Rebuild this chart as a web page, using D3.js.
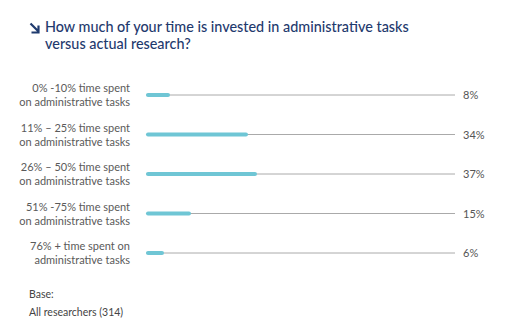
<!DOCTYPE html>
<html><head><meta charset="utf-8">
<script src="https://cdn.jsdelivr.net/npm/d3@7"></script>
<style>body{margin:0;background:#fff}</style>
</head><body>
<script>
const categories = [
  ["0% -10% time spent", "on administrative tasks"],
  ["11% \u2013 25% time spent", "on administrative tasks"],
  ["26% \u2013 50% time spent", "on administrative tasks"],
  ["51% -75% time spent", "on administrative tasks"],
  ["76% + time spent on", "administrative tasks"]
];
const values = [8, 34, 37, 15, 6];
const valueLabels = ["8%", "34%", "37%", "15%", "6%"];
const titleLines = ["How much of your time is invested in administrative tasks", "versus actual research?"];
const baseLines = ["Base:", "All researchers (314)"];

const W = 513, H = 333;
const svg = d3.select("body").append("svg").attr("width", W).attr("height", H);
const font = "Lato, 'Open Sans', sans-serif";

const x = d3.scaleLinear().domain([0, 100]).range([146, 446]);
const y = d3.scalePoint().domain(d3.range(values.length)).range([95, 253]);

// title arrow
svg.append("path")
  .attr("d", "M30.5,23.5 L38.5,31.5 M38.5,25.5 L38.5,32.5 L31.5,32.5")
  .attr("fill", "none").attr("stroke", "#1f3a6e").attr("stroke-width", 2.2);
svg.append("g").selectAll("text").data(titleLines).join("text")
  .attr("x", 45).attr("y", (d, i) => 32 + i * 17)
  .attr("font-family", font).attr("font-size", 14.4).attr("fill", "#1f3a6e")
  .attr("font-weight", 500)
  .text(d => d);

const rows = svg.append("g").selectAll("g").data(values).join("g");
rows.append("line")
  .attr("x1", x(0)).attr("x2", 455)
  .attr("y1", (d, i) => y(i)).attr("y2", (d, i) => y(i))
  .attr("stroke", "#aaa").attr("stroke-width", 1);
rows.append("line")
  .attr("x1", x(0) + 2).attr("x2", d => x(d) - 2)
  .attr("y1", (d, i) => y(i)).attr("y2", (d, i) => y(i))
  .attr("stroke", "#6fc6d5").attr("stroke-width", 4).attr("stroke-linecap", "round");
rows.append("text")
  .attr("x", 463).attr("y", (d, i) => y(i) + 4)
  .attr("font-family", font).attr("font-size", 11).attr("fill", "#555")
  .text((d, i) => valueLabels[i]);
rows.each(function(d, i) {
  d3.select(this).selectAll("text.cat").data(categories[i]).join("text").attr("class", "cat")
    .attr("x", 130).attr("y", (t, j) => y(i) - 3 + j * 14)
    .attr("text-anchor", "end").attr("font-family", font).attr("font-size", 11).attr("fill", "#5a5a5a")
    .text(t => t);
});

svg.append("g").selectAll("text").data(baseLines).join("text")
  .attr("x", 29).attr("y", (d, i) => 298 + i * 18)
  .attr("font-family", font).attr("font-size", 10.5).attr("fill", "#444")
  .text(d => d);
</script>
</body></html>
